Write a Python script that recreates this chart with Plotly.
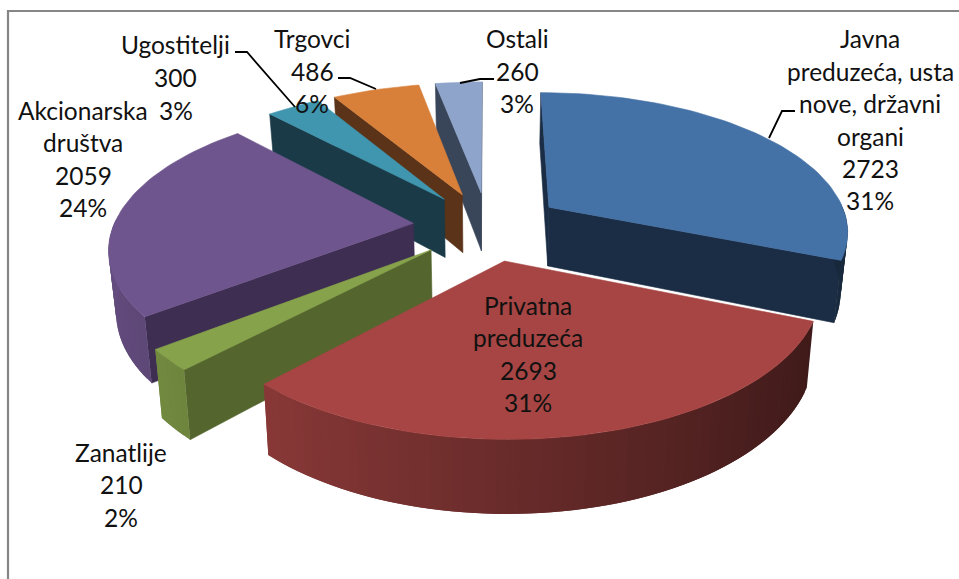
import math
import plotly.graph_objects as go

categories = ["Javna preduzeća, ustanove, državni organi", "Privatna preduzeća", "Zanatlije",
              "Akcionarska društva", "Ugostitelji", "Trgovci", "Ostali"]
values = [2723, 2693, 210, 2059, 300, 486, 260]
top_colors = ["#4471A6", "#A64543", "#86A34B", "#6F558D", "#3F96AE", "#D8803A", "#8FA4CB"]
wall_colors = ["#1B2D45", "#431C1A", "#54652E", "#3E2E52", "#1A3A48", "#5A3318", "#39465A"]
draw_order = [6, 5, 4, 3, 0, 2, 1]

# Label lines: text, centre x, centre y
label_lines = [
    ("Javna", 870, 38), ("preduzeća, usta", 870, 71), ("nove, državni", 870, 103), ("organi", 870, 136),
    ("2723", 870, 168), ("31%", 870, 200),
    ("Privatna", 528, 305), ("preduzeća", 528, 337), ("2693", 528, 370), ("31%", 528, 402),
    ("Zanatlije", 121, 452), ("210", 121, 484), ("2%", 121, 517),
    ("Akcionarska", 83, 110), ("društva", 83, 142), ("2059", 83, 175), ("24%", 83, 207),
    ("Ugostitelji", 175, 44), ("300", 175, 77), ("3%", 176, 110),
    ("Trgovci", 312, 38), ("486", 312, 71), ("6%", 312, 103),
    ("Ostali", 517, 38), ("260", 517, 71), ("3%", 517, 103),
]
leaders = [
    ([235, 247, 295], [52, 52, 107]),
    ([338, 350, 376], [78, 78, 89]),
    ([460, 480, 494], [83, 79, 79]),
    ([795, 782, 769], [111, 111, 138]),
]

CX, CY, RX, RY, K, H, PULL, CONV = 488, 226, 300, 138, 0.157, 60, 0.25, 0.98


def project(x, y, z):
    w = 1 - K * y
    sx = RX * x / w * (1 - (1 - CONV) * z)
    return CX + sx, CY + RY * y / w + H * z / w


def rgb(hexc, f):
    c = [int(hexc[i:i + 2], 16) for i in (1, 3, 5)]
    return "rgb(%d,%d,%d)" % tuple(min(255, round(v * f)) for v in c)


def area(pts):
    return sum(pts[i][0] * pts[(i + 1) % len(pts)][1] - pts[(i + 1) % len(pts)][0] * pts[i][1]
               for i in range(len(pts))) / 2


fig = go.Figure()


def poly(pts, color, stroke=0.6):
    xs = [p[0] for p in pts] + [pts[0][0]]
    ys = [p[1] for p in pts] + [pts[0][1]]
    fig.add_trace(go.Scatter(x=xs, y=ys, mode="lines", fill="toself", fillcolor=color,
                             line=dict(color=color, width=stroke), hoverinfo="skip", showlegend=False))


total = sum(values)
starts, a = [], 0.0
for v in values:
    starts.append(a)
    a += v / total * 2 * math.pi

for i in draw_order:
    a0 = starts[i]
    a1 = a0 + values[i] / total * 2 * math.pi
    mid = (a0 + a1) / 2
    ox, oy = PULL * math.sin(mid), -PULL * math.cos(mid)
    n = max(4, int((a1 - a0) / 0.03))
    thetas = [a0 + (a1 - a0) * j / n for j in range(n + 1)]
    rim = [(ox + math.sin(t), oy - math.cos(t)) for t in thetas]
    apex = (ox, oy)
    # radial walls (only the ones that face the viewer)
    for edge, sign in ((rim[0], 1), (rim[-1], -1)):
        q = [project(*apex, 0), project(*edge, 0), project(*edge, 1), project(*apex, 1)]
        if area(q) * sign < 0:
            poly(q, wall_colors[i])
    # outer wall, shaded by direction; strips overlap so no seams show
    for j in range(n):
        t = (thetas[j] + thetas[j + 1]) / 2
        if math.cos(t) > 0.02:
            continue
        e = min(j + 2, n)
        q = [project(*rim[j], 0), project(*rim[e], 0), project(*rim[e], 1), project(*rim[j], 1)]
        poly(q, rgb(top_colors[i], max(0.36, 0.63 - 0.27 * math.sin(t))), stroke=0)
    poly([project(*apex, 0)] + [project(*p, 0) for p in rim], top_colors[i])

for xs, ys in leaders:
    fig.add_trace(go.Scatter(x=xs, y=ys, mode="lines", line=dict(color="black", width=1.8),
                             hoverinfo="skip", showlegend=False))

# chart frame: top and left edges
fig.add_trace(go.Scatter(x=[959, 8, 8], y=[11, 11, 579], mode="lines", line=dict(color="#868686", width=2.2),
                         hoverinfo="skip", showlegend=False))

for text, x, y in label_lines:
    fig.add_annotation(x=x, y=y, text=text, showarrow=False, xanchor="center", yanchor="middle",
                       font=dict(family="Lato", size=24.5, color="#111111"))

fig.update_layout(width=959, height=579, margin=dict(l=0, r=0, t=0, b=0), paper_bgcolor="white",
                  plot_bgcolor="white", showlegend=False,
                  xaxis=dict(range=[0, 959], visible=False, fixedrange=True),
                  yaxis=dict(range=[579, 0], visible=False, fixedrange=True))
fig.write_html("out.html", config={"displayModeBar": False},
               post_script="document.body.style.margin='0';document.documentElement.style.overflow='hidden';")
